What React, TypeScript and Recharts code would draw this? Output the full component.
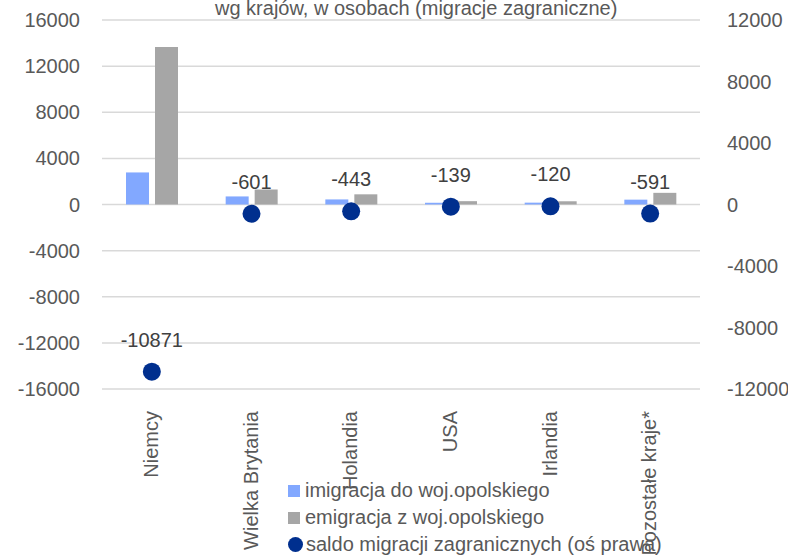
import React from 'react';
import { ComposedChart, Bar, Line, XAxis, YAxis, CartesianGrid, LabelList } from 'recharts';

const FONT = '"Liberation Sans", Arial, sans-serif';

const categories = ['Niemcy', 'Wielka Brytania', 'Holandia', 'USA', 'Irlandia', 'Pozostałe kraje*'];
const imigracja = [2780, 700, 440, 150, 160, 420];
const emigracja = [13650, 1301, 883, 289, 280, 1011];
const saldo = [-10871, -601, -443, -139, -120, -591];

const leftTicks = [-16000, -12000, -8000, -4000, 0, 4000, 8000, 12000, 16000];
const rightTicks = [-12000, -8000, -4000, 0, 4000, 8000, 12000];

const seriesNames = [
  'imigracja do woj.opolskiego',
  'emigracja z woj.opolskiego',
  'saldo migracji zagranicznych (oś prawa)',
];

const BLUE = '#82a8ff';
const GRAY = '#a6a6a6';
const NAVY = '#002f8e';
const TEXT = '#595959';

const data = categories.map((name, i) => ({
  name,
  imigracja: imigracja[i],
  emigracja: emigracja[i],
  saldo: saldo[i],
}));

// rotated category labels, reading bottom-up, top end just under the plot
const CategoryTick = (props: any) => {
  const { x, y, payload } = props;
  const tx = x + 6;
  const ty = y + 14;
  return (
    <text
      x={tx}
      y={ty}
      transform={`rotate(-90, ${tx}, ${ty})`}
      textAnchor="end"
      fill={TEXT}
      fontSize={20}
      fontFamily={FONT}
    >
      {payload.value}
    </text>
  );
};

const legendColors = [BLUE, GRAY, NAVY];

export default function App() {
  return (
    <div style={{ position: 'absolute', left: 0, top: 0, width: 788, height: 556, overflow: 'hidden', background: '#fff', fontFamily: FONT }}>
      <div
        style={{
          position: 'absolute',
          left: 215,
          top: -2,
          width: 400,
          textAlign: 'center',
          whiteSpace: 'nowrap',
          fontSize: 20,
          lineHeight: '20px',
          color: TEXT,
        }}
      >
        wg krajów, w osobach (migracje zagraniczne)
      </div>
      <ComposedChart
        width={788}
        height={556}
        data={data}
        margin={{ top: 20, right: 0, bottom: 0, left: 0 }}
        barSize={23}
        barGap={6}
      >
        <CartesianGrid yAxisId="left" vertical={false} stroke="#d9d9d9" strokeWidth={1.5} />
        <XAxis
          dataKey="name"
          height={167}
          axisLine={false}
          tickLine={false}
          interval={0}
          tick={<CategoryTick />}
        />
        <YAxis
          yAxisId="left"
          width={102}
          domain={[-16000, 16000]}
          ticks={leftTicks}
          axisLine={false}
          tickLine={false}
          tickMargin={16}
          tick={{ fill: TEXT, fontSize: 20, fontFamily: FONT }}
        />
        <YAxis
          yAxisId="right"
          orientation="right"
          width={88}
          domain={[-12000, 12000]}
          ticks={rightTicks}
          axisLine={false}
          tickLine={false}
          tickMargin={21}
          tick={{ fill: TEXT, fontSize: 20, fontFamily: FONT, textAnchor: 'start' }}
        />
        <Bar yAxisId="left" dataKey="imigracja" fill={BLUE} isAnimationActive={false} />
        <Bar yAxisId="left" dataKey="emigracja" fill={GRAY} isAnimationActive={false} />
        <Line
          yAxisId="right"
          dataKey="saldo"
          stroke="none"
          dot={{ r: 9, fill: NAVY, stroke: 'none', strokeWidth: 0 }}
          activeDot={false}
          isAnimationActive={false}
        >
          <LabelList dataKey="saldo" position="top" offset={25} fill="#404040" fontSize={20} fontFamily={FONT} />
        </Line>
      </ComposedChart>
      <div style={{ position: 'absolute', left: 288, top: 477, fontSize: 20, color: TEXT }}>
        {seriesNames.map((n, i) => (
          <div key={n} style={{ display: 'flex', alignItems: 'center', height: 27, whiteSpace: 'nowrap' }}>
            <span
              style={{
                display: 'inline-block',
                width: i === 2 ? 15 : 12,
                height: i === 2 ? 15 : 12,
                borderRadius: i === 2 ? '50%' : 0,
                background: legendColors[i],
                marginRight: i === 2 ? 3 : 5,
              }}
            />
            {n}
          </div>
        ))}
      </div>
    </div>
  );
}
